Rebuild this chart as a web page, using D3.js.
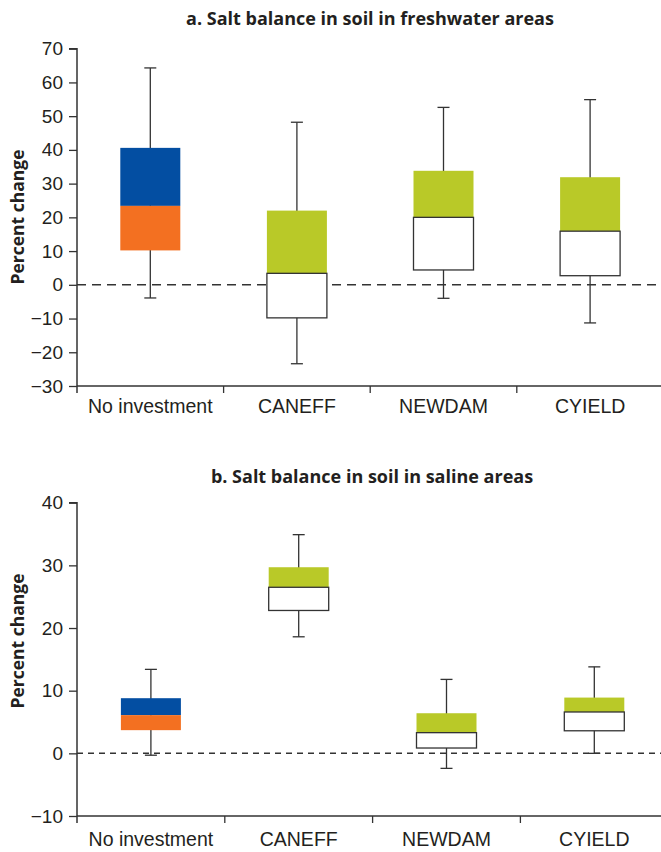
<!DOCTYPE html>
<html>
<head>
<meta charset="utf-8">
<script src="https://cdn.jsdelivr.net/npm/d3@7"></script>
<style>
  body { margin: 0; background: #fff; }
  svg { display: block; font-family: "Open Sans", "Noto Sans", sans-serif; }
</style>
</head>
<body>
<div id="chart"></div>
<script>
// Categories
const categories = ["No investment", "CANEFF", "NEWDAM", "CYIELD"];

// Panel a: freshwater areas
const freshMin = [-3.9, -23.4, -4.0, -11.3];
const freshQ1 = [10.2, -9.8, 4.4, 2.7];
const freshMed = [23.4, 3.4, 20.0, 15.9];
const freshQ3 = [40.6, 22.0, 33.8, 31.9];
const freshMax = [64.3, 48.2, 52.6, 54.9];
const freshTicks = [-30, -20, -10, 0, 10, 20, 30, 40, 50, 60, 70];

// Panel b: saline areas
const salineMin = [-0.3, 18.6, -2.4, 0.0];
const salineQ1 = [3.7, 22.8, 0.85, 3.6];
const salineMed = [6.1, 26.5, 3.3, 6.6];
const salineQ3 = [8.8, 29.7, 6.4, 8.9];
const salineMax = [13.4, 34.9, 11.8, 13.8];
const salineTicks = [-10, 0, 10, 20, 30, 40];

const blue = "#034ea2", orange = "#f37021", green = "#b9c928", ink = "#333";

const svg = d3.select("#chart")
  .append("svg")
  .attr("width", 661)
  .attr("height", 852);

function drawPanel(opt) {
  const rows = categories.map((c, i) => ({
    name: c, min: opt.min[i], q1: opt.q1[i], med: opt.med[i], q3: opt.q3[i], max: opt.max[i]
  }));

  const y = d3.scaleLinear()
    .domain(d3.extent(opt.ticks))
    .range([opt.bottom, opt.top]);

  const x = d3.scaleBand()
    .domain(categories)
    .range([77, 77 + 4 * opt.band]);

  const g = svg.append("g");

  // Title
  g.append("text")
    .attr("x", opt.titleX)
    .attr("y", opt.titleY)
    .attr("text-anchor", "middle")
    .style("font-weight", "bold")
    .style("font-size", "18px")
    .attr("fill", "#231f20")
    .text(opt.title);

  // Y axis label
  g.append("text")
    .attr("transform", `translate(24,${opt.labelY}) rotate(-90)`)
    .attr("text-anchor", "middle")
    .style("font-weight", "bold")
    .style("font-size", "17.5px")
    .attr("fill", "#231f20")
    .text("Percent change");

  // Zero line
  g.append("line")
    .attr("x1", 77).attr("x2", 661)
    .attr("y1", y(0)).attr("y2", y(0))
    .attr("stroke", ink)
    .attr("stroke-width", 1.5)
    .attr("stroke-dasharray", opt.dash);

  // Whiskers
  const bw = 60, cap = 12;
  const cx = d => x(d.name) + x.bandwidth() / 2;
  g.selectAll(".whisker")
    .data(rows)
    .join("line")
    .attr("x1", cx).attr("x2", cx)
    .attr("y1", d => y(d.min)).attr("y2", d => y(d.max))
    .attr("stroke", ink).attr("stroke-width", 1.3);
  ["min", "max"].forEach(k => {
    g.selectAll(".cap-" + k)
      .data(rows)
      .join("line")
      .attr("x1", d => cx(d) - cap / 2).attr("x2", d => cx(d) + cap / 2)
      .attr("y1", d => y(d[k])).attr("y2", d => y(d[k]))
      .attr("stroke", ink).attr("stroke-width", 1.3);
  });

  // Upper half of box
  g.selectAll(".upper")
    .data(rows)
    .join("rect")
    .attr("x", d => cx(d) - bw / 2)
    .attr("width", bw)
    .attr("y", d => y(d.q3))
    .attr("height", d => y(d.med) - y(d.q3))
    .attr("fill", (d, i) => i === 0 ? blue : green);

  // Lower half of box
  g.selectAll(".lower")
    .data(rows)
    .join("rect")
    .attr("x", d => cx(d) - bw / 2)
    .attr("width", bw)
    .attr("y", d => y(d.med))
    .attr("height", d => y(d.q1) - y(d.med))
    .attr("fill", (d, i) => i === 0 ? orange : "#fff")
    .attr("stroke", (d, i) => i === 0 ? "none" : ink)
    .attr("stroke-width", 1.3);

  // Y axis
  const ya = g.append("g")
    .attr("transform", "translate(77,0)")
    .call(d3.axisLeft(y).tickValues(opt.ticks).tickSize(8).tickPadding(6));
  ya.select(".domain").attr("stroke", ink).attr("stroke-width", 1.5)
    .attr("d", `M-8,${opt.top}H0V${opt.bottom + 7}`);
  ya.selectAll(".tick line").attr("stroke", ink).attr("stroke-width", 1.3);
  ya.selectAll("text").style("font-size", "19px").attr("fill", "#231f20");

  // X axis
  const xa = g.append("g")
    .attr("transform", `translate(0,${opt.bottom})`)
    .call(d3.axisBottom(x).tickSize(0).tickPadding(opt.xPad));
  xa.select(".domain").attr("stroke", ink).attr("stroke-width", 1.5)
    .attr("d", "M77,0H661");
  xa.selectAll("text").style("font-size", "19.5px").attr("fill", "#231f20");
  xa.selectAll(".sep")
    .data(categories.slice(1))
    .join("line")
    .attr("x1", d => x(d)).attr("x2", d => x(d))
    .attr("y1", 0).attr("y2", 7)
    .attr("stroke", ink).attr("stroke-width", 1.3);
}

drawPanel({
  title: "a. Salt balance in soil in freshwater areas",
  titleX: 370, titleY: 25, labelY: 217,
  top: 48.7, bottom: 386, band: 146.6, xPad: 13,
  min: freshMin, q1: freshQ1, med: freshMed, q3: freshQ3, max: freshMax,
  ticks: freshTicks, dash: "9,6"
});

drawPanel({
  title: "b. Salt balance in soil in saline areas",
  titleX: 372, titleY: 483, labelY: 641,
  top: 502.7, bottom: 816, band: 147.8, xPad: 16,
  min: salineMin, q1: salineQ1, med: salineMed, q3: salineQ3, max: salineMax,
  ticks: salineTicks, dash: "6,5"
});
</script>
</body>
</html>
